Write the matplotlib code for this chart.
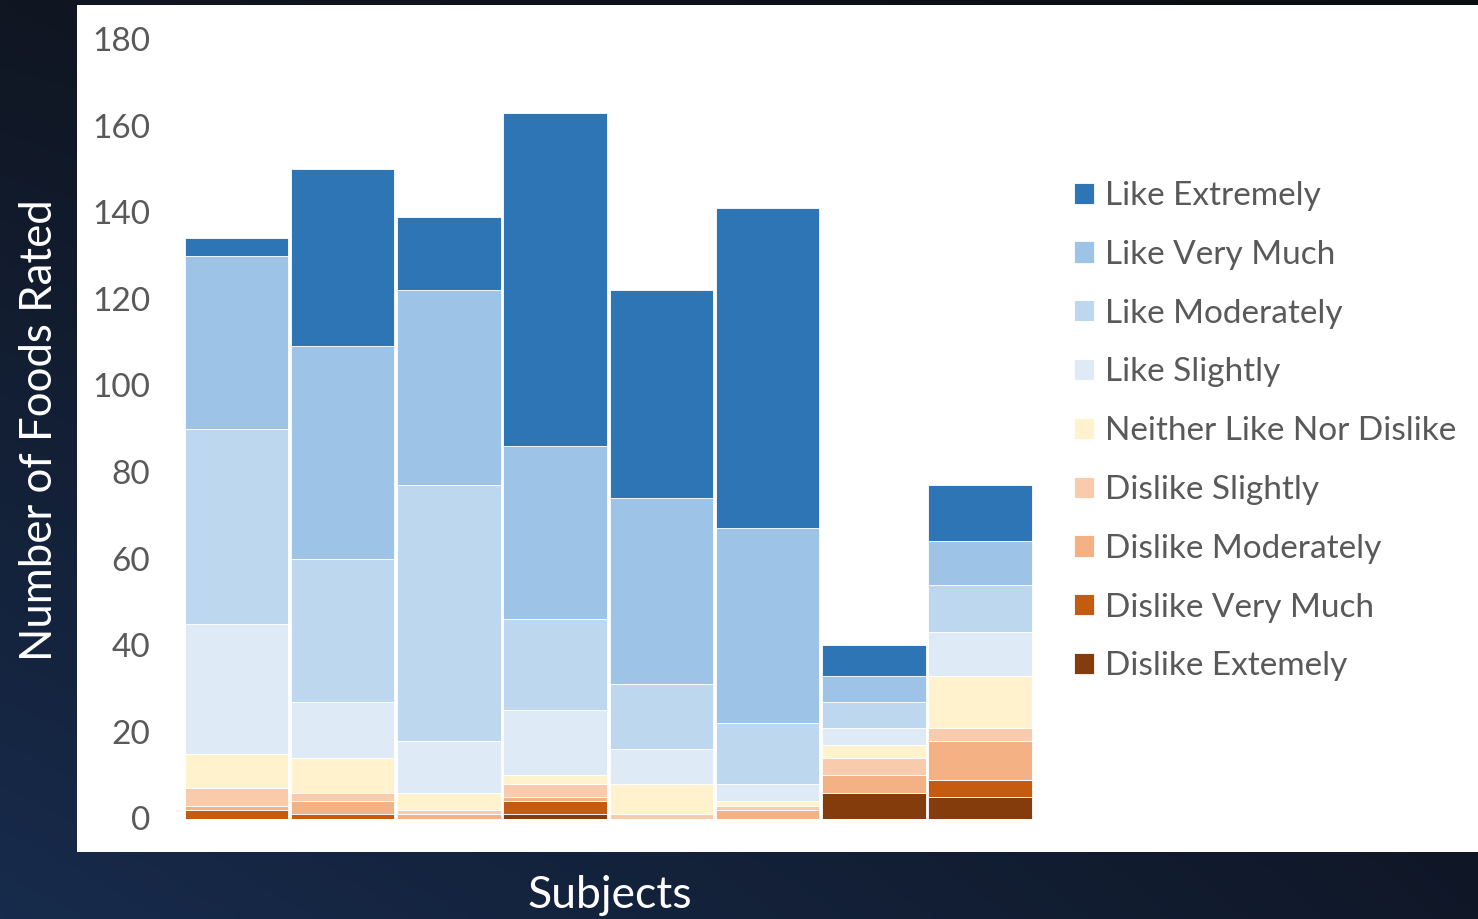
import numpy as np
import matplotlib
matplotlib.use("Agg")
import matplotlib.pyplot as plt
from matplotlib.patches import Rectangle

# ---- data ----
subjects = ["S1", "S2", "S3", "S4", "S5", "S6", "S7", "S8"]
categories = ["Dislike Extemely", "Dislike Very Much", "Dislike Moderately", "Dislike Slightly",
              "Neither Like Nor Dislike", "Like Slightly", "Like Moderately", "Like Very Much",
              "Like Extremely"]
dislike_extremely   = [0, 0, 0, 1, 0, 0, 6, 5]
dislike_very_much   = [2, 1, 0, 3, 0, 0, 0, 4]
dislike_moderately  = [1, 3, 1, 1, 0, 2, 4, 9]
dislike_slightly    = [4, 2, 1, 3, 1, 1, 4, 3]
neither             = [8, 8, 4, 2, 7, 1, 3, 12]
like_slightly       = [30, 13, 12, 15, 8, 4, 4, 10]
like_moderately     = [45, 33, 59, 21, 15, 14, 6, 11]
like_very_much      = [40, 49, 45, 40, 43, 45, 6, 10]
like_extremely      = [4, 41, 17, 77, 48, 74, 7, 13]
series = [dislike_extremely, dislike_very_much, dislike_moderately, dislike_slightly,
          neither, like_slightly, like_moderately, like_very_much, like_extremely]
colors = ["#843C0C", "#C55A11", "#F4B183", "#F8CBAD", "#FFF2CC",
          "#DEEBF7", "#BDD7EE", "#9DC3E6", "#2E75B6"]
yticks = [0, 20, 40, 60, 80, 100, 120, 140, 160, 180]

W, H = 1478, 919
fig = plt.figure(figsize=(W / 100, H / 100), dpi=100)
FONT = "Lato"

# background gradient
bg = fig.add_axes([0, 0, 1, 1], zorder=-10)
yy, xx = np.mgrid[0:1:200j, 0:1:300j]
c_tl = np.array([0x10, 0x16, 0x22]) / 255
c_tr = np.array([0x0a, 0x0c, 0x10]) / 255
c_bl = np.array([0x17, 0x2b, 0x4c]) / 255
c_br = np.array([0x10, 0x18, 0x28]) / 255
top = c_tl[None, None, :] * (1 - xx[..., None]) + c_tr[None, None, :] * xx[..., None]
bot = c_bl[None, None, :] * (1 - xx[..., None]) + c_br[None, None, :] * xx[..., None]
img = top * (1 - yy[..., None]) + bot * yy[..., None]
bg.imshow(img, aspect="auto", extent=[0, 1, 0, 1], origin="upper")
bg.set_axis_off()

# white panel
fig.patches.append(Rectangle((77 / W, (H - 852) / H), 1 - 77 / W, (852 - 5) / H,
                             transform=fig.transFigure, facecolor="white",
                             edgecolor="none", zorder=-5))

ax = fig.add_axes([183.4 / W, (H - 818.5) / H, (1033.1 - 183.4) / W, (818.5 - 39) / H])
ax.set_facecolor("none")
x = np.arange(len(subjects))
bottom = np.zeros(len(subjects))
handles = []
for vals, col, lab in zip(series, colors, categories):
    b = ax.bar(x, vals, width=0.975, bottom=bottom, color=col, edgecolor="white",
               linewidth=0.6, label=lab)
    handles.append(b)
    bottom += np.array(vals)

ax.set_xlim(-0.5, 7.5)
ax.set_ylim(0, 180)
ax.set_yticks(yticks)
ax.set_yticklabels([str(t) for t in yticks], fontsize=24, color="#595959", family=FONT)
ax.set_xticks([])
ax.tick_params(axis="y", length=0, pad=24)
for s in ax.spines.values():
    s.set_visible(False)

leg = fig.legend(handles[::-1], categories[::-1], loc="upper left",
                 bbox_to_anchor=(1074 / W, 1 - 181 / H), frameon=False,
                 prop={"family": FONT, "size": 24}, labelcolor="#595959",
                 handlelength=0.6, handleheight=0.6, handletextpad=0.33,
                 labelspacing=0.864, borderpad=0, borderaxespad=0)

fig.text(40 / W, 1 - 430 / H, "Number of Foods Rated", rotation=90, ha="center",
         va="center", color="white", fontsize=31.5, family=FONT)
fig.text(610 / W, 1 - 895 / H, "Subjects", ha="center", va="center", color="white",
         fontsize=32, family=FONT)

fig.savefig("out.png", dpi=100)
